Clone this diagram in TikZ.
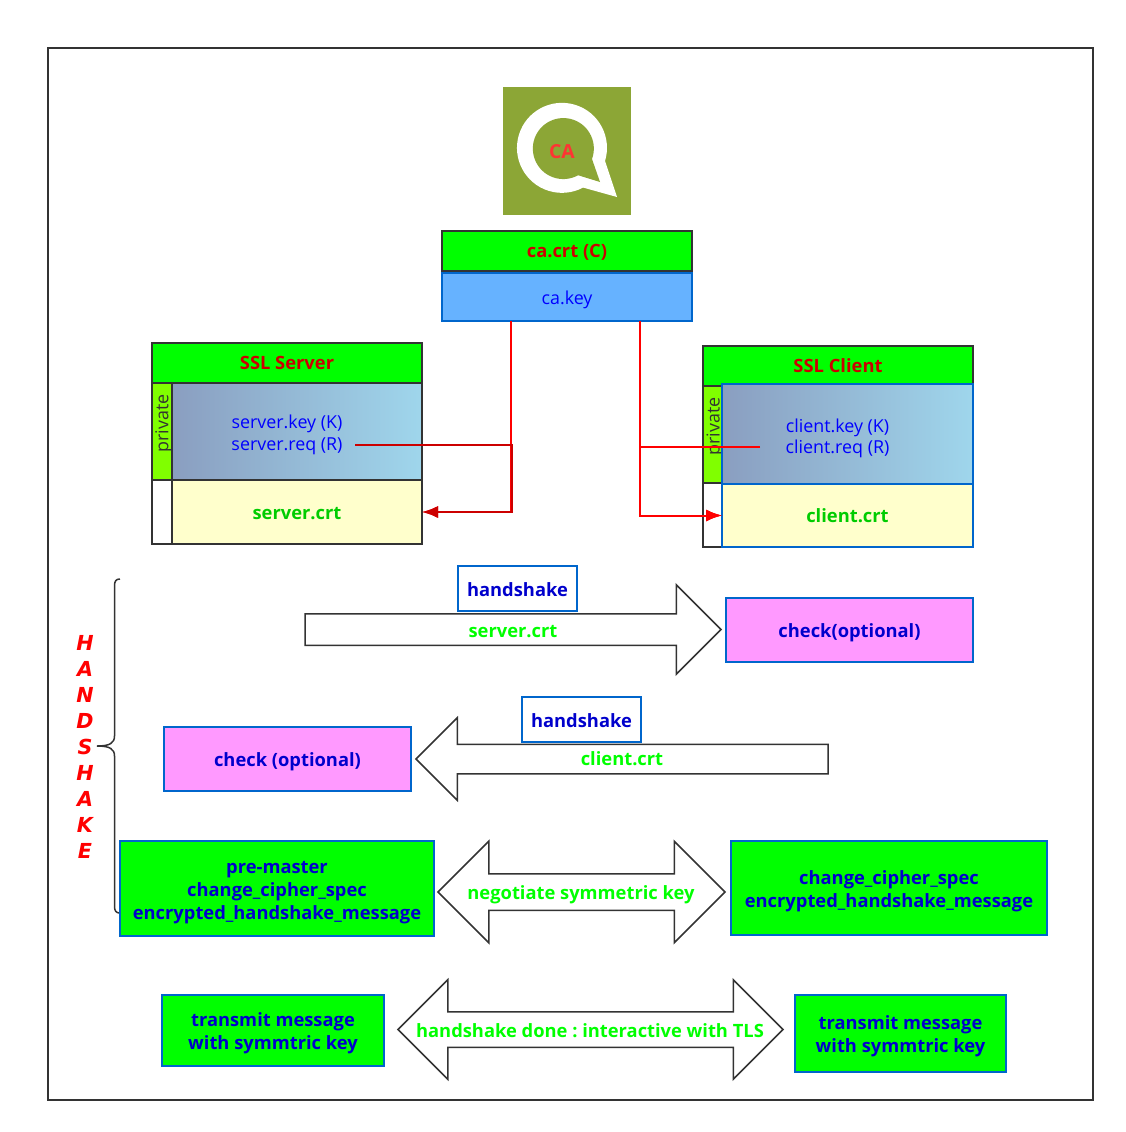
\documentclass[tikz,border=0pt]{standalone}
\usepackage{fontspec}
\setmainfont{Open Sans}
\newfontfamily\hsfont{DejaVu Sans}
\usetikzlibrary{positioning, shapes.arrows, calc}
\definecolor{tlsGreen}{HTML}{00FF00}
\definecolor{tlsLime}{HTML}{80FF00}
\definecolor{tlsBlue}{HTML}{0066CC}
\definecolor{tlsSky}{HTML}{66B2FF}
\definecolor{tlsInk}{HTML}{333333}
\definecolor{tlsText}{HTML}{0000CC}
\definecolor{tlsKeyText}{HTML}{0000FF}
\definecolor{tlsPink}{HTML}{FF99FF}
\definecolor{tlsCream}{HTML}{FFFFCC}
\definecolor{tlsOlive}{HTML}{8CA636}
\definecolor{tlsCrt}{HTML}{00CC00}
\definecolor{tlsKeyL}{HTML}{8A9EC0}
\definecolor{tlsKeyR}{HTML}{9FD6EC}
\newcommand{\px}{*0.75pt}
\newcommand{\regfont}{\fontsize{13.4pt}{16pt}\selectfont}
\newcommand{\boldfont}{\fontsize{13.75pt}{17.25pt}\selectfont\bfseries}
\frenchspacing
\tikzset{
    low/.style={text height=#1, text depth=0pt},
    tlsBox/.style={
        rectangle,
        draw=tlsBlue,
        line width=1.5\px,
        inner sep=0pt,
        outer sep=0pt,
        align=center,
        font=\regfont
    },
    head/.style={tlsBox, draw=tlsInk, fill=tlsGreen, text=red!80!black, font=\boldfont, low=9.5pt},
    side/.style={tlsBox, draw=tlsInk, fill=white},
    priv/.style={side, fill=tlsLime, text=tlsInk},
    keys/.style={tlsBox, left color=tlsKeyL, right color=tlsKeyR, text=tlsKeyText},
    crt/.style={tlsBox, fill=tlsCream, text=tlsCrt, font=\boldfont},
    step box/.style={tlsBox, text=tlsText, font=\boldfont},
    blockArrow/.style={
        draw=tlsInk,
        line width=1.5\px,
        fill=white,
        inner sep=0pt,
        outer sep=0pt,
        text depth=0pt
    },
    arrowLabel/.style={text=tlsGreen, font=\boldfont},
    redLine/.style={draw=red, line width=2\px, -{Latex[length=16\px,width=12\px]}}
}
\usetikzlibrary{arrows.meta}
\begin{document}
\begin{tikzpicture}[x=0.75pt, y=-0.75pt]
\useasboundingbox (0,0) rectangle (1125,1132);
\node[draw=tlsInk, line width=1.5\px, minimum width=1045\px, minimum height=1052\px, inner sep=0pt, outer sep=0pt] (frame) at (570.5,574) {};

% CA logo
\node[fill=tlsOlive, minimum width=128\px, minimum height=128\px, inner sep=0pt] (logo) at (567,151) {};
\fill[white] (605,161) arc[start angle=17, end angle=-298, radius=45] -- (617,197) -- cycle;
\fill[tlsOlive] (592,159) arc[start angle=20, end angle=-299, radius=30.5] -- (600,182) -- cycle;
\node[text=red!80!white, font=\fontsize{14.5pt}{17pt}\selectfont\bfseries] (catext) at (562,152) {CA};

\node[head, minimum width=250\px, minimum height=40\px, low=9pt] (cacrt) at (567,251) {ca.crt (C)};
\node[tlsBox, fill=tlsSky, minimum width=250\px, minimum height=48\px, text=tlsKeyText, low=10.5pt, below=2\px of cacrt] (cakey) {ca.key};

% server
\node[head, minimum width=270\px, minimum height=40\px] (srvhead) at (287,363) {SSL Server};
\node[keys, draw=tlsInk, minimum width=250\px, minimum height=97\px, low=27.75pt] (srvkey) at (297,431.5) {server.key (K)\hspace*{15pt}\\server.req (R)\hspace*{15pt}};
\node[priv, minimum width=20\px, minimum height=97\px] (srvpriv) at (162,431.5) {\hspace*{1.5pt}\rotatebox{90}{\hspace*{12pt}private}\hspace*{-1.5pt}};
\node[crt, draw=tlsInk, minimum width=250\px, minimum height=64\px, low=10.5pt] (srvcrt) at (297,512) {server.crt};
\node[side, minimum width=20\px, minimum height=64\px] (srvside) at (162,512) {};

% client
\node[head, minimum width=270\px, minimum height=40\px] (clihead) at (838,366) {SSL Client};
\node[priv, minimum width=19\px, minimum height=97\px] (clipriv) at (712.5,434.5) {\hspace*{2pt}\rotatebox{90}{\hspace*{12pt}private}\hspace*{-2pt}};
\node[side, minimum width=19\px, minimum height=64\px] (cliside) at (712.5,515) {};
\node[keys, minimum width=251\px, minimum height=100\px, low=29pt] (clikey) at (847.5,434) {client.key (K)\hspace*{15pt}\\client.req (R)\hspace*{15pt}};
\node[crt, minimum width=251\px, minimum height=63\px, low=11pt] (clicrt) at (847.5,515.5) {client.crt};

% signing lines
\coordinate (cakeyl) at (511,321);
\coordinate (cakeyr) at (640,321);
\coordinate (srvreq) at (355,445);
\coordinate (clireq) at (760,447);
\draw[redLine] (cakeyl) |- (srvcrt.east);
\draw[redLine, draw=red!80!black] (srvreq) -- ++(157,0) |- (srvcrt.east);
\draw[redLine] (cakeyr) |- (clicrt.west);
\draw[redLine] (clireq) -- ++(-120,0) |- (clicrt.west);

% handshake brace
\node[text=red, align=center, font=\hsfont\fontsize{15.5pt}{19.5pt}\selectfont\bfseries\itshape] (hstext) at (85,747) {H\\A\\N\\D\\S\\H\\A\\K\\E};
\coordinate (bracetop) at (120,579);
\coordinate (bracetip) at (97,746);
\coordinate (bracebot) at (120,913);
\draw[tlsInk, line width=1.5\px] (bracetop) .. controls (116,579) and (114.5,581) .. (114.5,586) -- (114.5,736) .. controls (114.5,743) and (110,746) .. (bracetip) .. controls (110,746) and (114.5,749) .. (114.5,756) -- (114.5,906) .. controls (114.5,911) and (116,913) .. (bracebot);

% server.crt
\node[step box, minimum width=119\px, minimum height=45\px, low=12.5pt] (hs1) at (517.5,588.5) {handshake};
\node[blockArrow, single arrow, single arrow head extend=29\px, single arrow tip angle=90, minimum width=88\px, minimum height=416\px, anchor=tail, text height=22.5pt] (srvarrow) at (305,629.5) {};
\node[arrowLabel] (srvlabel) at (513,632) {server.crt};
\node[step box, fill=tlsPink, minimum width=247\px, minimum height=64\px, low=10.5pt] (chk1) at (849.5,630) {check(optional)};

% client.crt
\node[step box, minimum width=119\px, minimum height=45\px, low=11.5pt] (hs2) at (581.5,719.5) {handshake};
\node[blockArrow, single arrow, shape border rotate=180, single arrow head extend=26.5\px, single arrow tip angle=90, minimum width=81\px, minimum height=412\px, anchor=tail, text height=21pt] (cliarrow) at (828,759) {};
\node[arrowLabel] (clilabel) at (622,759) {client.crt};
\node[step box, fill=tlsPink, minimum width=247\px, minimum height=64\px, low=10.5pt] (chk2) at (287.5,759) {check (optional)};

% key exchange
\node[step box, fill=tlsGreen, minimum width=314\px, minimum height=95\px, low=45.75pt] (pre) at (277,888.5) {pre-master\\change\_cipher\_spec\\encrypted\_handshake\_message};
\node[blockArrow, double arrow, double arrow head extend=32.5\px, double arrow tip angle=90, minimum width=100\px, minimum height=287\px, text height=26.25pt] (negarrow) at (581.5,892) {};
\node[arrowLabel] (neglabel) at (581,895) {negotiate symmetric key};
\node[step box, fill=tlsGreen, minimum width=316\px, minimum height=94\px, low=28.5pt] (chg) at (889,888) {change\_cipher\_spec\\encrypted\_handshake\_message};

% transmit
\node[step box, fill=tlsGreen, minimum width=222\px, minimum height=71\px, low=27.75pt] (tx1) at (273,1030.5) {transmit message\\with symmtric key};
\node[blockArrow, double arrow, double arrow head extend=32\px, double arrow tip angle=90, minimum width=98\px, minimum height=385\px, text height=25.5pt] (donearrow) at (590.5,1029.5) {};
\node[arrowLabel] (donelabel) at (590,1031) {handshake done : interactive with TLS};
\node[step box, fill=tlsGreen, minimum width=211\px, minimum height=77\px, low=27.75pt] (tx2) at (900.5,1033.5) {transmit message\\with symmtric key};
\end{tikzpicture}
\end{document}
